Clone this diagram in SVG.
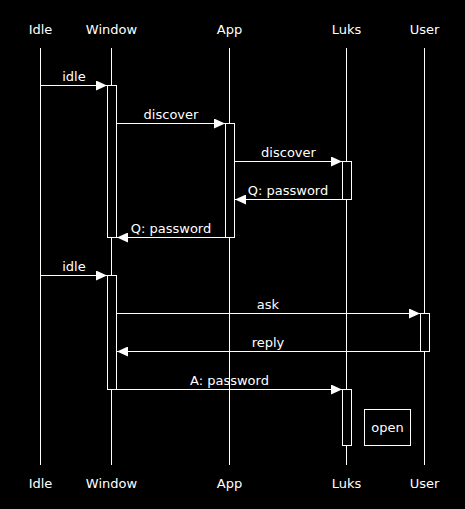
<svg xmlns="http://www.w3.org/2000/svg" width="465" height="509" viewBox="0 0 465 509">
<style>
text{font-family:"DejaVu Sans",sans-serif;font-size:13px;fill:#fff;text-anchor:middle}
.life{stroke:#fff;stroke-width:1}
.act{fill:#000;stroke:#fff;stroke-width:1}
.msg{stroke:#fff;stroke-width:1;fill:none}
</style>
<defs>
<marker id="ah" markerWidth="11" markerHeight="10" refX="11" refY="5" orient="auto" markerUnits="userSpaceOnUse">
<path d="M0,0 L11,5 L0,10 Z" fill="#fff"/>
</marker>
</defs>
<rect width="465" height="509" fill="#000"/>
<g id="lifelines">
<line class="life" x1="40.5" y1="48" x2="40.5" y2="465"/>
<line class="life" x1="111.5" y1="48" x2="111.5" y2="465"/>
<line class="life" x1="229.5" y1="48" x2="229.5" y2="465"/>
<line class="life" x1="346.5" y1="48" x2="346.5" y2="465"/>
<line class="life" x1="424.5" y1="48" x2="424.5" y2="465"/>
</g>
<g id="Idle"><text x="40.5" y="34">Idle</text><text x="40.5" y="488">Idle</text></g>
<g id="Window"><text x="111.5" y="34">Window</text><text x="111.5" y="488">Window</text>
<rect class="act" x="107.5" y="85.5" width="9" height="152"/>
<rect class="act" x="107.5" y="275.5" width="9" height="114"/></g>
<g id="App"><text x="229.5" y="34">App</text><text x="229.5" y="488">App</text>
<rect class="act" x="225.5" y="123.5" width="9" height="114"/></g>
<g id="Luks"><text x="346.5" y="34">Luks</text><text x="346.5" y="488">Luks</text>
<rect class="act" x="342.5" y="161.5" width="9" height="38"/>
<rect class="act" x="342.5" y="389.5" width="9" height="56"/></g>
<g id="User"><text x="424.5" y="34">User</text><text x="424.5" y="488">User</text>
<rect class="act" x="420.5" y="313.5" width="9" height="38"/></g>
<g id="note"><rect x="364.5" y="409.5" width="46" height="36" fill="#000" stroke="#fff"/><text x="387.5" y="432">open</text></g>
<g id="connectors">
<line class="msg" x1="40.5" y1="85.5" x2="107" y2="85.5" marker-end="url(#ah)"/>
<text x="74" y="81">idle</text>
<line class="msg" x1="116.5" y1="123.5" x2="225" y2="123.5" marker-end="url(#ah)"/>
<text x="171" y="119">discover</text>
<line class="msg" x1="234.5" y1="161.5" x2="342" y2="161.5" marker-end="url(#ah)"/>
<text x="288.5" y="157">discover</text>
<line class="msg" x1="342.5" y1="199.5" x2="235" y2="199.5" marker-end="url(#ah)"/>
<text x="288" y="195">Q: password</text>
<line class="msg" x1="225.5" y1="237.5" x2="117" y2="237.5" marker-end="url(#ah)"/>
<text x="171" y="233">Q: password</text>
<line class="msg" x1="40.5" y1="275.5" x2="107" y2="275.5" marker-end="url(#ah)"/>
<text x="74" y="271">idle</text>
<line class="msg" x1="116.5" y1="313.5" x2="420" y2="313.5" marker-end="url(#ah)"/>
<text x="268" y="309">ask</text>
<line class="msg" x1="420.5" y1="351.5" x2="117" y2="351.5" marker-end="url(#ah)"/>
<text x="268" y="347">reply</text>
<line class="msg" x1="116.5" y1="389.5" x2="342" y2="389.5" marker-end="url(#ah)"/>
<text x="229.5" y="385">A: password</text>
</g>
</svg>
